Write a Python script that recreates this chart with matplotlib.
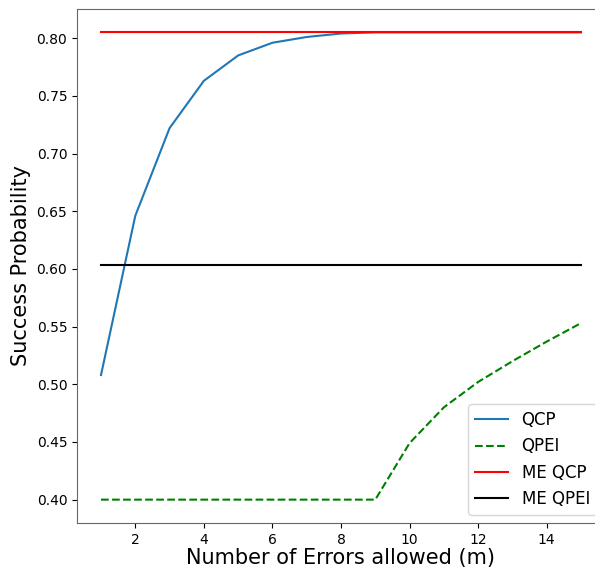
import numpy as np
import matplotlib.pyplot as plt

# number of errors allowed
m = np.arange(1, 16)

qcp = [0.508, 0.646, 0.722, 0.763, 0.785, 0.796, 0.801, 0.804, 0.805,
       0.805, 0.805, 0.805, 0.805, 0.805, 0.805]
qpei = [0.400, 0.400, 0.400, 0.400, 0.400, 0.400, 0.400, 0.400, 0.400,
        0.449, 0.480, 0.502, 0.520, 0.537, 0.553]
me_qcp = 0.805
me_qpei = 0.603

fig = plt.figure(figsize=(5.95, 5.70), dpi=100)
# axes runs a bit past the right edge, like the cropped original
ax = fig.add_axes([77 / 595, 47 / 570, 528 / 595, 514 / 570])

ax.plot(m, qcp, label='QCP', color='tab:blue')
ax.plot(m, qpei, label='QPEI', color='green', linestyle='dashed')
ax.plot(m, [me_qcp] * len(m), label='ME QCP', color='red')
ax.plot(m, [me_qpei] * len(m), label='ME QPEI', color='black')

ax.set_xlabel('Number of Errors allowed (m)', fontsize=15, labelpad=1)
ax.set_ylabel('Success Probability', fontsize=15)
ax.tick_params(labelsize=10)
for s in ax.spines.values():
    s.set_color('#666666')
ax.legend(loc='lower right', fontsize=12)

plt.savefig('out.png', dpi=100)
